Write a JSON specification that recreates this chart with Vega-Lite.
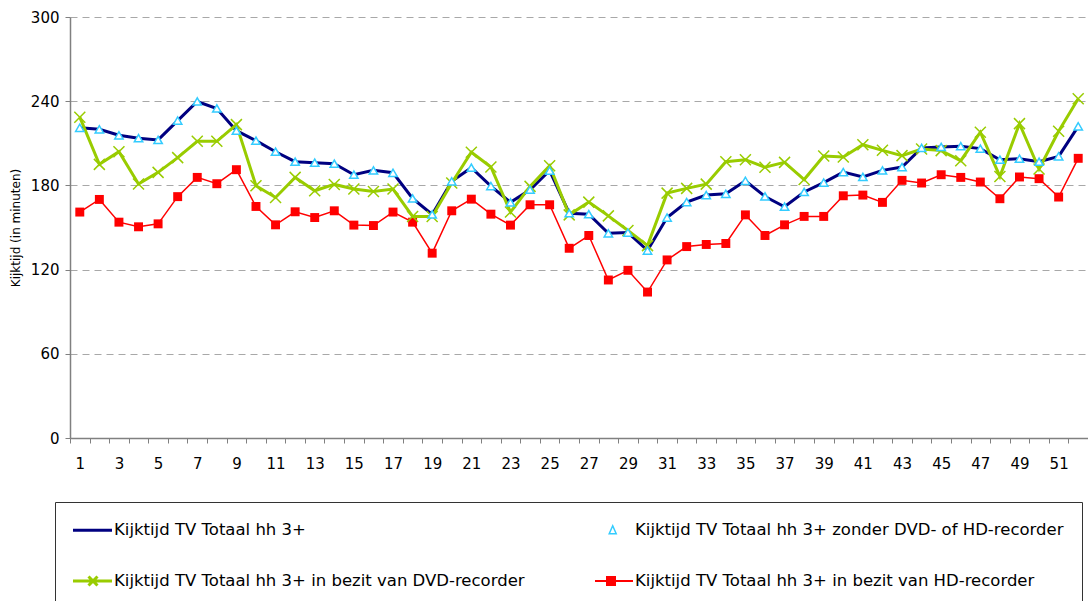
{
  "$schema": "https://vega.github.io/schema/vega-lite/v6.json",
  "width": 1018,
  "height": 421,
  "autosize": {"type": "none"},
  "padding": {"left": 70, "top": 17, "right": 0, "bottom": 163},
  "background": "white",
  "config": {
    "view": {"stroke": null},
    "font": "DejaVu Sans",
    "axisX": {"title": null, "labelAngle": 0, "labelExpr": "datum.value % 2 == 1 ? datum.label : ''", "labelOverlap": false, "tickBand": "extent", "tickSize": 5, "tickColor": "#808080", "domainColor": "#808080", "domainWidth": 1.5, "labelFontSize": 15, "labelPadding": 13, "labelColor": "#000", "grid": false},
    "axisY": {"grid": true, "gridDash": [7, 5], "gridColor": "#a8a8a8", "tickSize": 5, "labelPadding": 6, "domainColor": "#808080", "domainWidth": 1.5, "tickColor": "#808080", "labelFontSize": 15, "labelColor": "#000", "titleFontSize": 12, "titleFontWeight": "normal", "titleColor": "#000", "titlePadding": 8}
  },
  "data": {"values": [
    {"week": 1, "totaal": 221, "zonder": 221, "dvd": 228.6, "hd": 161},
    {"week": 2, "totaal": 220, "zonder": 220, "dvd": 195, "hd": 170},
    {"week": 3, "totaal": 215.7, "zonder": 215.7, "dvd": 204, "hd": 153.8},
    {"week": 4, "totaal": 213.6, "zonder": 213.6, "dvd": 181, "hd": 150.5},
    {"week": 5, "totaal": 212.4, "zonder": 212.4, "dvd": 189.3, "hd": 152.6},
    {"week": 6, "totaal": 226.2, "zonder": 226.2, "dvd": 199.8, "hd": 172},
    {"week": 7, "totaal": 239.8, "zonder": 239.8, "dvd": 211.4, "hd": 185.7},
    {"week": 8, "totaal": 234.8, "zonder": 234.8, "dvd": 211.4, "hd": 181.2},
    {"week": 9, "totaal": 219, "zonder": 219, "dvd": 223.3, "hd": 191.2},
    {"week": 10, "totaal": 211.9, "zonder": 211.9, "dvd": 179.8, "hd": 165},
    {"week": 11, "totaal": 204, "zonder": 204, "dvd": 171.4, "hd": 151.9},
    {"week": 12, "totaal": 196.9, "zonder": 196.9, "dvd": 185.7, "hd": 161.2},
    {"week": 13, "totaal": 196.2, "zonder": 196.2, "dvd": 176.2, "hd": 157.1},
    {"week": 14, "totaal": 195.5, "zonder": 195.5, "dvd": 180.7, "hd": 161.9},
    {"week": 15, "totaal": 187.6, "zonder": 187.6, "dvd": 177.4, "hd": 151.7},
    {"week": 16, "totaal": 190.7, "zonder": 190.7, "dvd": 175.7, "hd": 151.4},
    {"week": 17, "totaal": 189, "zonder": 189, "dvd": 177.4, "hd": 161},
    {"week": 18, "totaal": 170.7, "zonder": 170.7, "dvd": 157.9, "hd": 153.8},
    {"week": 19, "totaal": 159.3, "zonder": 159.3, "dvd": 157.9, "hd": 131.7},
    {"week": 20, "totaal": 182.9, "zonder": 182.9, "dvd": 181.7, "hd": 161.9},
    {"week": 21, "totaal": 192.6, "zonder": 192.6, "dvd": 203.6, "hd": 170.2},
    {"week": 22, "totaal": 179.5, "zonder": 179.5, "dvd": 193.1, "hd": 159.5},
    {"week": 23, "totaal": 167.9, "zonder": 167.9, "dvd": 161, "hd": 151.7},
    {"week": 24, "totaal": 176.9, "zonder": 176.9, "dvd": 179.3, "hd": 166.2},
    {"week": 25, "totaal": 190.6, "zonder": 190.6, "dvd": 194, "hd": 166.2},
    {"week": 26, "totaal": 160.2, "zonder": 160.2, "dvd": 159, "hd": 135.2},
    {"week": 27, "totaal": 159.5, "zonder": 159.5, "dvd": 168.1, "hd": 144.3},
    {"week": 28, "totaal": 145.9, "zonder": 145.9, "dvd": 158.3, "hd": 112.6},
    {"week": 29, "totaal": 146.4, "zonder": 146.4, "dvd": 147.9, "hd": 119.5},
    {"week": 30, "totaal": 133.6, "zonder": 133.6, "dvd": 137.1, "hd": 104},
    {"week": 31, "totaal": 157.1, "zonder": 157.1, "dvd": 174.5, "hd": 126.9},
    {"week": 32, "totaal": 168.1, "zonder": 168.1, "dvd": 177.9, "hd": 136.4},
    {"week": 33, "totaal": 173.1, "zonder": 173.1, "dvd": 180.9, "hd": 137.9},
    {"week": 34, "totaal": 174, "zonder": 174, "dvd": 196.9, "hd": 138.6},
    {"week": 35, "totaal": 183.3, "zonder": 183.3, "dvd": 198.3, "hd": 159},
    {"week": 36, "totaal": 172.1, "zonder": 172.1, "dvd": 192.9, "hd": 144.3},
    {"week": 37, "totaal": 164.8, "zonder": 164.8, "dvd": 196.4, "hd": 151.9},
    {"week": 38, "totaal": 175.3, "zonder": 175.3, "dvd": 184.2, "hd": 157.9},
    {"week": 39, "totaal": 182, "zonder": 182, "dvd": 201, "hd": 157.9},
    {"week": 40, "totaal": 189.5, "zonder": 189.5, "dvd": 200.2, "hd": 172.6},
    {"week": 41, "totaal": 186, "zonder": 186, "dvd": 209, "hd": 173.1},
    {"week": 42, "totaal": 190.7, "zonder": 190.7, "dvd": 205, "hd": 167.9},
    {"week": 43, "totaal": 193.1, "zonder": 193.1, "dvd": 201.2, "hd": 183.6},
    {"week": 44, "totaal": 206.7, "zonder": 206.7, "dvd": 205.9, "hd": 181.7},
    {"week": 45, "totaal": 207.4, "zonder": 207.4, "dvd": 204.8, "hd": 187.6},
    {"week": 46, "totaal": 207.9, "zonder": 207.9, "dvd": 197.6, "hd": 185.7},
    {"week": 47, "totaal": 206.2, "zonder": 206.2, "dvd": 217.9, "hd": 182.4},
    {"week": 48, "totaal": 198.3, "zonder": 198.3, "dvd": 186.4, "hd": 170.5},
    {"week": 49, "totaal": 199, "zonder": 199, "dvd": 224, "hd": 186},
    {"week": 50, "totaal": 196.9, "zonder": 196.9, "dvd": 191.7, "hd": 184.8},
    {"week": 51, "totaal": 200.7, "zonder": 200.7, "dvd": 218.6, "hd": 171.7},
    {"week": 52, "totaal": 222.1, "zonder": 222.1, "dvd": 241.7, "hd": 199.3}
  ]},
  "encoding": {
    "x": {"field": "week", "type": "ordinal", "scale": {"type": "band", "paddingInner": 0, "paddingOuter": 0}}
  },
  "layer": [
    {
      "mark": {"type": "line", "strokeWidth": 1.5},
      "encoding": {
        "y": {"field": "hd", "type": "quantitative", "title": "Kijktijd (in minuten)", "scale": {"domain": [0, 300], "nice": false}, "axis": {"values": [0, 60, 120, 180, 240, 300]}},
        "color": {
          "datum": "Kijktijd TV Totaal hh 3+ in bezit van HD-recorder",
          "scale": {
            "domain": ["Kijktijd TV Totaal hh 3+", "Kijktijd TV Totaal hh 3+ zonder DVD- of HD-recorder", "Kijktijd TV Totaal hh 3+ in bezit van DVD-recorder", "Kijktijd TV Totaal hh 3+ in bezit van HD-recorder"],
            "range": ["#000080", "#33CCFF", "#99CC00", "#FF0000"]
          },
          "legend": {
            "title": null,
            "orient": "none",
            "legendX": -15,
            "legendY": 485,
            "direction": "horizontal",
            "columns": 2,
            "columnPadding": 66,
            "rowPadding": 31,
            "padding": 18,
            "symbolSize": 400,
            "symbolStrokeWidth": 1.5,
            "labelOffset": 2,
            "labelLimit": 700,
            "labelFont": "DejaVu Sans",
            "labelFontSize": 16.5,
            "labelColor": "#000",
            "strokeColor": "#333",
            "fillColor": "white",
            "encode": {
              "symbols": {
                "update": {
                  "x": {"value": 20},
                  "y": {"value": 10},
                  "shape": {"signal": "['M-2,0H1.9', 'M-0.13,-0.45L0.22,0.35L-0.48,0.35Z', 'M-2,0H1.9M-0.45,-0.45L0.45,0.45M-0.45,0.45L0.45,-0.45', 'M-1.9,0H1.9M-0.7,-0.4H0.1V0.4H-0.7Z'][datum.index]"},
                  "stroke": {"signal": "['#000080', '#33CCFF', '#99CC00', '#FF0000'][datum.index]"},
                  "fill": {"signal": "['transparent', 'white', 'transparent', '#FF0000'][datum.index]"},
                  "strokeWidth": {"signal": "[3, 1.5, 3, 2][datum.index]"},
                  "opacity": {"value": 1}
                }
              },
              "labels": {
                "update": {
                  "x": {"value": 41},
                  "y": {"value": 10},
                  "baseline": {"value": "middle"},
                  "align": {"value": "left"}
                }
              }
            }
          }
        }
      }
    },
    {
      "mark": {"type": "point", "shape": "square", "filled": true, "color": "#FF0000", "size": 80, "opacity": 1},
      "encoding": {
        "y": {"field": "hd", "type": "quantitative", "title": "Kijktijd (in minuten)"}
      }
    },
    {
      "mark": {"type": "line", "strokeWidth": 3},
      "encoding": {
        "y": {"field": "totaal", "type": "quantitative", "title": "Kijktijd (in minuten)"},
        "color": {"datum": "Kijktijd TV Totaal hh 3+"}
      }
    },
    {
      "mark": {"type": "line", "strokeWidth": 3},
      "encoding": {
        "y": {"field": "dvd", "type": "quantitative", "title": "Kijktijd (in minuten)"},
        "color": {"datum": "Kijktijd TV Totaal hh 3+ in bezit van DVD-recorder"}
      }
    },
    {
      "mark": {"type": "point", "shape": "M-1,-1L1,1M-1,1L1,-1", "filled": false, "stroke": "#99CC00", "strokeWidth": 1.5, "size": 121, "opacity": 1},
      "encoding": {
        "y": {"field": "dvd", "type": "quantitative", "title": "Kijktijd (in minuten)"}
      }
    },
    {
      "mark": {"type": "point", "shape": "triangle-up", "filled": true, "fill": "white", "stroke": "#33CCFF", "strokeWidth": 1.5, "size": 70, "opacity": 1},
      "encoding": {
        "y": {"field": "zonder", "type": "quantitative", "title": "Kijktijd (in minuten)"}
      }
    }
  ]
}
